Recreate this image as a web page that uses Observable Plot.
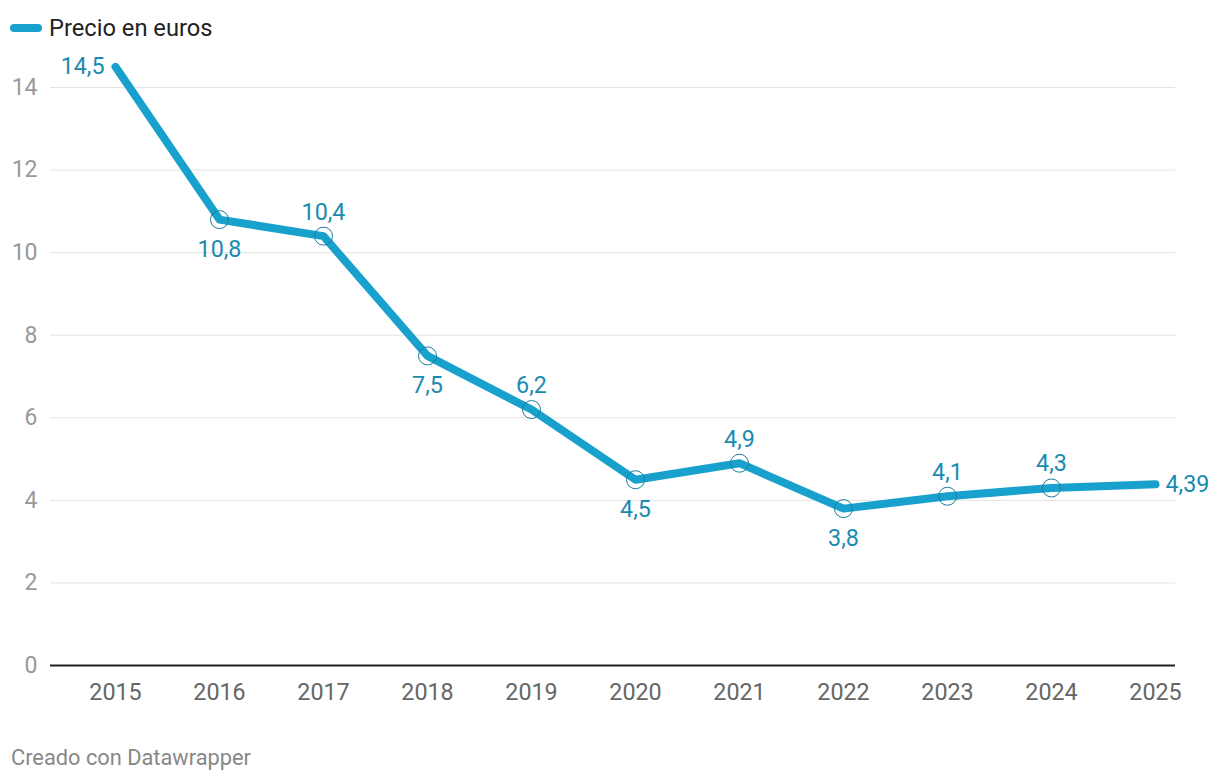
<!DOCTYPE html>
<html><head><meta charset="utf-8">
<script src="https://cdn.jsdelivr.net/npm/d3@7"></script>
<script src="https://cdn.jsdelivr.net/npm/@observablehq/plot@0.6"></script>
<style>
body{margin:0;background:#fff;font-family:Roboto,sans-serif;}
#wrap{position:relative;width:1220px;height:782px;overflow:hidden;}
#legend{position:absolute;left:10px;top:14px;height:28px;display:flex;align-items:center;font-size:23.7px;color:#222;}
.sw{width:32px;height:8px;border-radius:4px;background:#18a1cd;margin-right:7px;}
#chart{position:absolute;left:0;top:50px;}
#foot{position:absolute;left:11px;top:745px;font-size:21.8px;color:#888;line-height:26px;}
</style></head>
<body>
<div id="wrap">
  <div id="legend"><div class="sw"></div><span>Precio en euros</span></div>
  <div id="chart"></div>
  <div id="foot">Creado con Datawrapper</div>
</div>
<script>
const years = [2015, 2016, 2017, 2018, 2019, 2020, 2021, 2022, 2023, 2024, 2025];
const prices = [14.5, 10.8, 10.4, 7.5, 6.2, 4.5, 4.9, 3.8, 4.1, 4.3, 4.39];
const yTicks = [0, 2, 4, 6, 8, 10, 12, 14];

const n = years.length;
const fmt = v => String(v).replace(".", ",");
const data = years.map((year, i) => {
  let side;
  if (i === 0) side = "left";
  else if (i === n - 1) side = "right";
  else side = (prices[i - 1] - 2 * prices[i] + prices[i + 1]) > 0 ? "below" : "above";
  return {year, price: prices[i], label: fmt(prices[i]), side};
});

const labelColor = "#1a8bb0";
const txt = (side, opts) => Plot.text(data.filter(d => d.side === side), {
  x: "year", y: "price", text: "label", fill: labelColor, fontSize: 23.3, ...opts
});

const chart = Plot.plot({
  width: 1220, height: 660,
  marginLeft: 50, marginRight: 45, marginTop: 37, marginBottom: 45,
  style: {fontFamily: "Roboto", fontSize: "23px", background: "transparent", overflow: "visible"},
  x: {domain: [2015, 2025], insetLeft: 65, insetRight: 20},
  y: {domain: [0, 14]},
  marks: [
    Plot.ruleY(yTicks.filter(t => t > 0), {stroke: "#e3e3e3", strokeWidth: 1}),
    Plot.axisY({ticks: yTicks, tickSize: 0, tickPadding: 13, color: "#999", label: null, fontSize: 23}),
    Plot.axisX({ticks: years, tickFormat: d => String(d), tickSize: 0, tickPadding: 18, color: "#666", label: null, fontSize: 23.3}),
    Plot.ruleY([0], {stroke: "#222", strokeWidth: 2}),
    Plot.line(data, {x: "year", y: "price", stroke: "#18a1cd", strokeWidth: 8, strokeLinecap: "round", strokeLinejoin: "round"}),
    Plot.dot(data.slice(1, -1), {x: "year", y: "price", r: 9, stroke: "#1b7c9e", strokeWidth: 1, fill: "none"}),
    txt("left", {textAnchor: "end", dx: -11}),
    txt("right", {textAnchor: "start", dx: 10}),
    txt("above", {dy: -24}),
    txt("below", {dy: 30})
  ]
});
document.getElementById("chart").appendChild(chart);
</script>
</body></html>
